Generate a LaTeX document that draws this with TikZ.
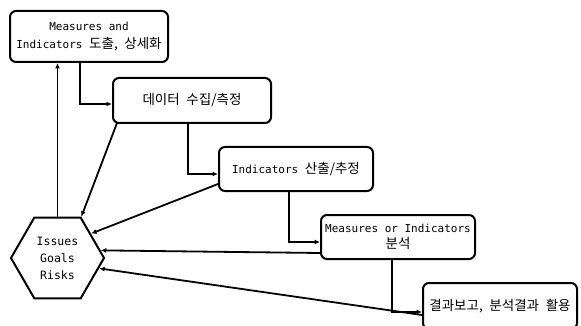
\documentclass[tikz,border=0pt]{standalone}
\usepackage{fontspec}
\setmainfont{DejaVu Sans Mono}
\newfontfamily\krfont{Noto Sans CJK KR}[WordSpace=2.2]
\newcommand\kor[1]{{\krfont\fontsize{13.5}{16}\selectfont #1}}
\usetikzlibrary{shapes.geometric,arrows.meta,calc}
\begin{document}
\begin{tikzpicture}[x=1pt,y=-1pt,
  box/.style={draw,line width=2pt,rounded corners=6pt,inner sep=0pt,
    align=center,font=\fontsize{11}{18}\selectfont},
  hexa/.style={draw,line width=2pt,regular polygon,regular polygon sides=6,
    minimum size=93pt,inner sep=0pt,align=center,font=\fontsize{11.5}{17}\selectfont},
  arr/.style={line width=1.8pt,-{Latex[length=5.5pt,width=5pt]}}]
\useasboundingbox (0,0) rectangle (581,326);
% process steps
\node[box,minimum width=158pt,minimum height=51pt] (b1) at (89,36.5) {Measures and\\Indicators \kor{도출, 상세화}};
\node[box,minimum width=158pt,minimum height=45pt] (b2) at (192,100.5) {\kor{데이터 수집/측정}};
\node[box,minimum width=154pt,minimum height=44pt] (b3) at (296,169) {Indicators \kor{산출/추정}};
\node[box,minimum width=154pt,minimum height=44pt,font=\fontsize{11}{16}\selectfont] (b4) at (398,237) {Measures or Indicators\\\kor{분석}};
\node[box,minimum width=154pt,minimum height=46pt] (b5) at (500,306) {\kor{결과보고, 분석결과 활용}};
% central hexagon
\node[hexa] (hex) at (57.5,258) {Issues\\Goals\\Risks};
% forward chain
\draw[arr] (hex.north) -- (b1.south -| hex.north);
\draw[arr] ([xshift=-9pt]b1.south) |- ([yshift=-3.5pt]b2.west);
\draw[arr] ([xshift=-4pt]b2.south) |- ([yshift=-5pt]b3.west);
\draw[arr] ([xshift=-7pt]b3.south) |- ([yshift=-5pt]b4.west);
\draw[arr] ([xshift=-6pt]b4.south) |- ([yshift=-6pt]b5.west);
% feedback to the hexagon
\draw[arr] ($(b2.south west)+(5,-1)$) -- (hex.60);
\draw[arr] ($(b3.south west)+(0,-8)$) -- (hex.36);
\draw[arr] ($(b4.south west)+(0,-7)$) -- (hex.10);
\draw[arr] ($(b5.west)+(0,9)$) -- (hex.-14);
\end{tikzpicture}
\end{document}
